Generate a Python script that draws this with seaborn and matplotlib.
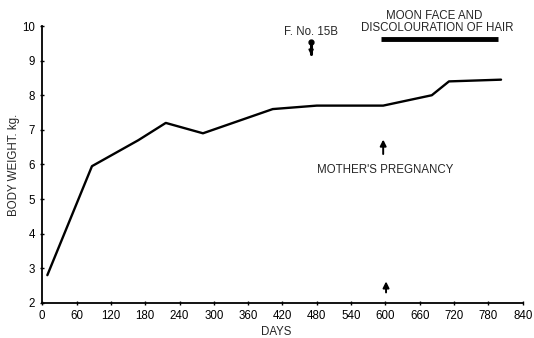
import matplotlib
matplotlib.use("Agg")
import matplotlib.pyplot as plt
import seaborn as sns
import pandas as pd

# body weight readings (days, kg)
days = [9, 87, 168, 216, 281, 403, 480, 596, 681, 711, 802]
weight = [2.8, 5.95, 6.7, 7.2, 6.9, 7.6, 7.7, 7.7, 8.0, 8.4, 8.45]
xticks = list(range(0, 841, 60))
yticks = list(range(2, 11))

df = pd.DataFrame({"DAYS": days, "kg": weight})

sns.set_style("ticks")
plt.rcParams["font.family"] = ["Liberation Sans", "DejaVu Sans"]

fig = plt.figure(figsize=(5.34, 3.38), dpi=100)
ax = fig.add_axes([0.079, 0.104, 0.900, 0.819])

sns.lineplot(data=df, x="DAYS", y="kg", color="black", linewidth=1.7, ax=ax)

ax.set_xlim(0, 840)
ax.set_ylim(2, 10)
ax.set_xticks(xticks)
ax.set_yticks(yticks)
ax.tick_params(labelsize=8.3, length=3, width=1, direction="inout", colors="black")
for s in ["left", "bottom"]:
    ax.spines[s].set_linewidth(1.3)
    ax.spines[s].set_color("black")
sns.despine(ax=ax)
ax.set_xlabel("DAYS", fontsize=8.3, labelpad=1)
ax.xaxis.set_label_coords(0.487, -0.085)
ax.set_ylabel("BODY WEIGHT. kg.", fontsize=8.3, labelpad=2)

# annotations
ax.text(470, 9.82, "F. No. 15B", fontsize=8.3, ha="center", va="center")
ax.plot([470, 470], [9.56, 9.2], color="black", linewidth=2.2)
ax.plot([470], [9.55], marker="o", markersize=3.5, color="black")
ax.annotate("", xy=(470, 9.08), xytext=(470, 9.3),
            arrowprops=dict(arrowstyle="-|>", color="black", lw=1.5, mutation_scale=6))
ax.text(686, 10.3, "MOON FACE AND", fontsize=8.3, ha="center", va="center", clip_on=False)
ax.text(690, 9.94, "DISCOLOURATION OF HAIR", fontsize=8.3, ha="center", va="center", clip_on=False)
ax.plot([592, 796], [9.62, 9.62], color="black", linewidth=3.5, solid_capstyle="butt")

ax.annotate("", xy=(596, 6.8), xytext=(596, 6.22),
            arrowprops=dict(arrowstyle="-|>", color="black", lw=1.4, mutation_scale=9))
ax.text(600, 5.83, "MOTHER'S PREGNANCY", fontsize=8.3, ha="center", va="center")
ax.annotate("", xy=(601, 2.7), xytext=(601, 2.22),
            arrowprops=dict(arrowstyle="-|>", color="black", lw=1.4, mutation_scale=9))

fig.savefig("out.png", dpi=100)
